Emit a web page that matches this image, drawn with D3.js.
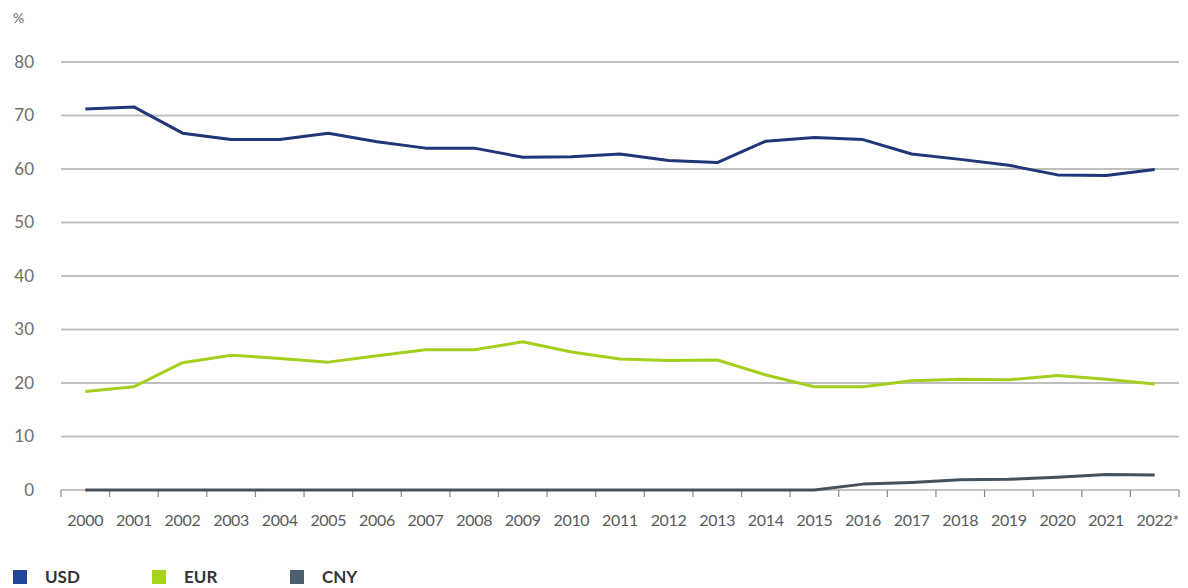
<!DOCTYPE html>
<html>
<head>
<meta charset="utf-8">
<script src="https://cdn.jsdelivr.net/npm/d3@7"></script>
<style>
  html, body { margin: 0; padding: 0; background: #fff; }
  svg { display: block; }
</style>
</head>
<body>
<svg id="chart" width="1188" height="588"></svg>
<script>
// Share of currencies (%) by year
const years = ["2000","2001","2002","2003","2004","2005","2006","2007","2008","2009","2010","2011",
               "2012","2013","2014","2015","2016","2017","2018","2019","2020","2021","2022*"];
const usd = [71.2,71.6,66.7,65.5,65.5,66.7,65.1,63.9,63.9,62.2,62.3,62.8,61.6,61.2,65.2,65.9,65.5,62.8,61.8,60.7,58.9,58.8,59.9];
const eur = [18.4,19.3,23.8,25.2,24.6,23.9,25.1,26.2,26.2,27.7,25.8,24.5,24.2,24.3,21.5,19.3,19.3,20.4,20.7,20.6,21.4,20.7,19.8];
const cny = [0,0,0,0,0,0,0,0,0,0,0,0,0,0,0,0,1.1,1.4,1.9,2.0,2.4,2.9,2.8];
const yTicks = [0,10,20,30,40,50,60,70,80];
const seriesNames = ["USD","EUR","CNY"];
const lineColors = ["#1f3678","#a3cf1e","#44525e"];
const swatchColors = ["#22479a","#a6d41c","#4b5e6d"];

const svg = d3.select("#chart");
const font = "Lato, 'Open Sans', sans-serif";
const plotLeft = 61, plotRight = 1179, plotTop = 62, plotBottom = 490;

const x = d3.scaleBand().domain(years).range([plotLeft, plotRight]);
const y = d3.scaleLinear().domain([0, 80]).range([plotBottom, plotTop]);

// horizontal gridlines
svg.append("g").selectAll("line")
  .data(yTicks.filter(d => d > 0))
  .join("line")
  .attr("x1", plotLeft).attr("x2", plotRight)
  .attr("y1", d => y(d)).attr("y2", d => y(d))
  .attr("stroke", "#bfbfbf").attr("stroke-width", 2);

// y tick labels
svg.append("g").selectAll("text")
  .data(yTicks)
  .join("text")
  .attr("x", 34).attr("y", d => y(d))
  .attr("dy", "0.35em")
  .attr("text-anchor", "end")
  .attr("font-family", font).attr("font-size", 17)
  .attr("fill", "#6e6e6e")
  .text(d => d);

svg.append("text")
  .attr("x", 13).attr("y", 23)
  .attr("font-family", font).attr("font-size", 14)
  .attr("fill", "#6e6e6e")
  .text("%");

// x axis: ticks at band boundaries
const xAxis = svg.append("g");
xAxis.append("line")
  .attr("x1", plotLeft).attr("x2", plotRight)
  .attr("y1", plotBottom).attr("y2", plotBottom)
  .attr("stroke", "#8a8a8a").attr("stroke-width", 1.2);
const boundaries = years.map(d => x(d)).concat([x(years[years.length - 1]) + x.bandwidth()]);
xAxis.selectAll("line.tick")
  .data(boundaries)
  .join("line")
  .attr("class", "tick")
  .attr("x1", d => d).attr("x2", d => d)
  .attr("y1", plotBottom).attr("y2", plotBottom + 7)
  .attr("stroke", "#8a8a8a").attr("stroke-width", 1.2);
xAxis.selectAll("text")
  .data(years)
  .join("text")
  .attr("x", d => x(d) + x.bandwidth() / 2 + (d.endsWith("*") ? 3 : 0))
  .attr("y", 526)
  .attr("text-anchor", "middle")
  .attr("font-family", font).attr("font-size", 16)
  .attr("letter-spacing", -0.3)
  .attr("fill", "#5a5a5a")
  .text(d => d);

// series lines
const line = d3.line()
  .x((d, i) => x(years[i]) + x.bandwidth() / 2)
  .y(d => y(d));

[usd, eur, cny].forEach((vals, k) => {
  svg.append("path")
    .datum(vals)
    .attr("fill", "none")
    .attr("stroke", lineColors[k])
    .attr("stroke-width", 3)
    .attr("stroke-linejoin", "round")
    .attr("d", line);
});

// legend
const legendX = [13, 152, 290];
const legend = svg.append("g").selectAll("g")
  .data(seriesNames)
  .join("g")
  .attr("transform", (d, i) => `translate(${legendX[i]},570)`);
legend.append("rect")
  .attr("width", 14).attr("height", 14)
  .attr("fill", (d, i) => swatchColors[i]);
legend.append("text")
  .attr("x", 32).attr("y", 7).attr("dy", "0.36em")
  .attr("font-family", font).attr("font-size", 17).attr("font-weight", 700)
  .attr("fill", "#333")
  .text(d => d);
</script>
</body>
</html>
